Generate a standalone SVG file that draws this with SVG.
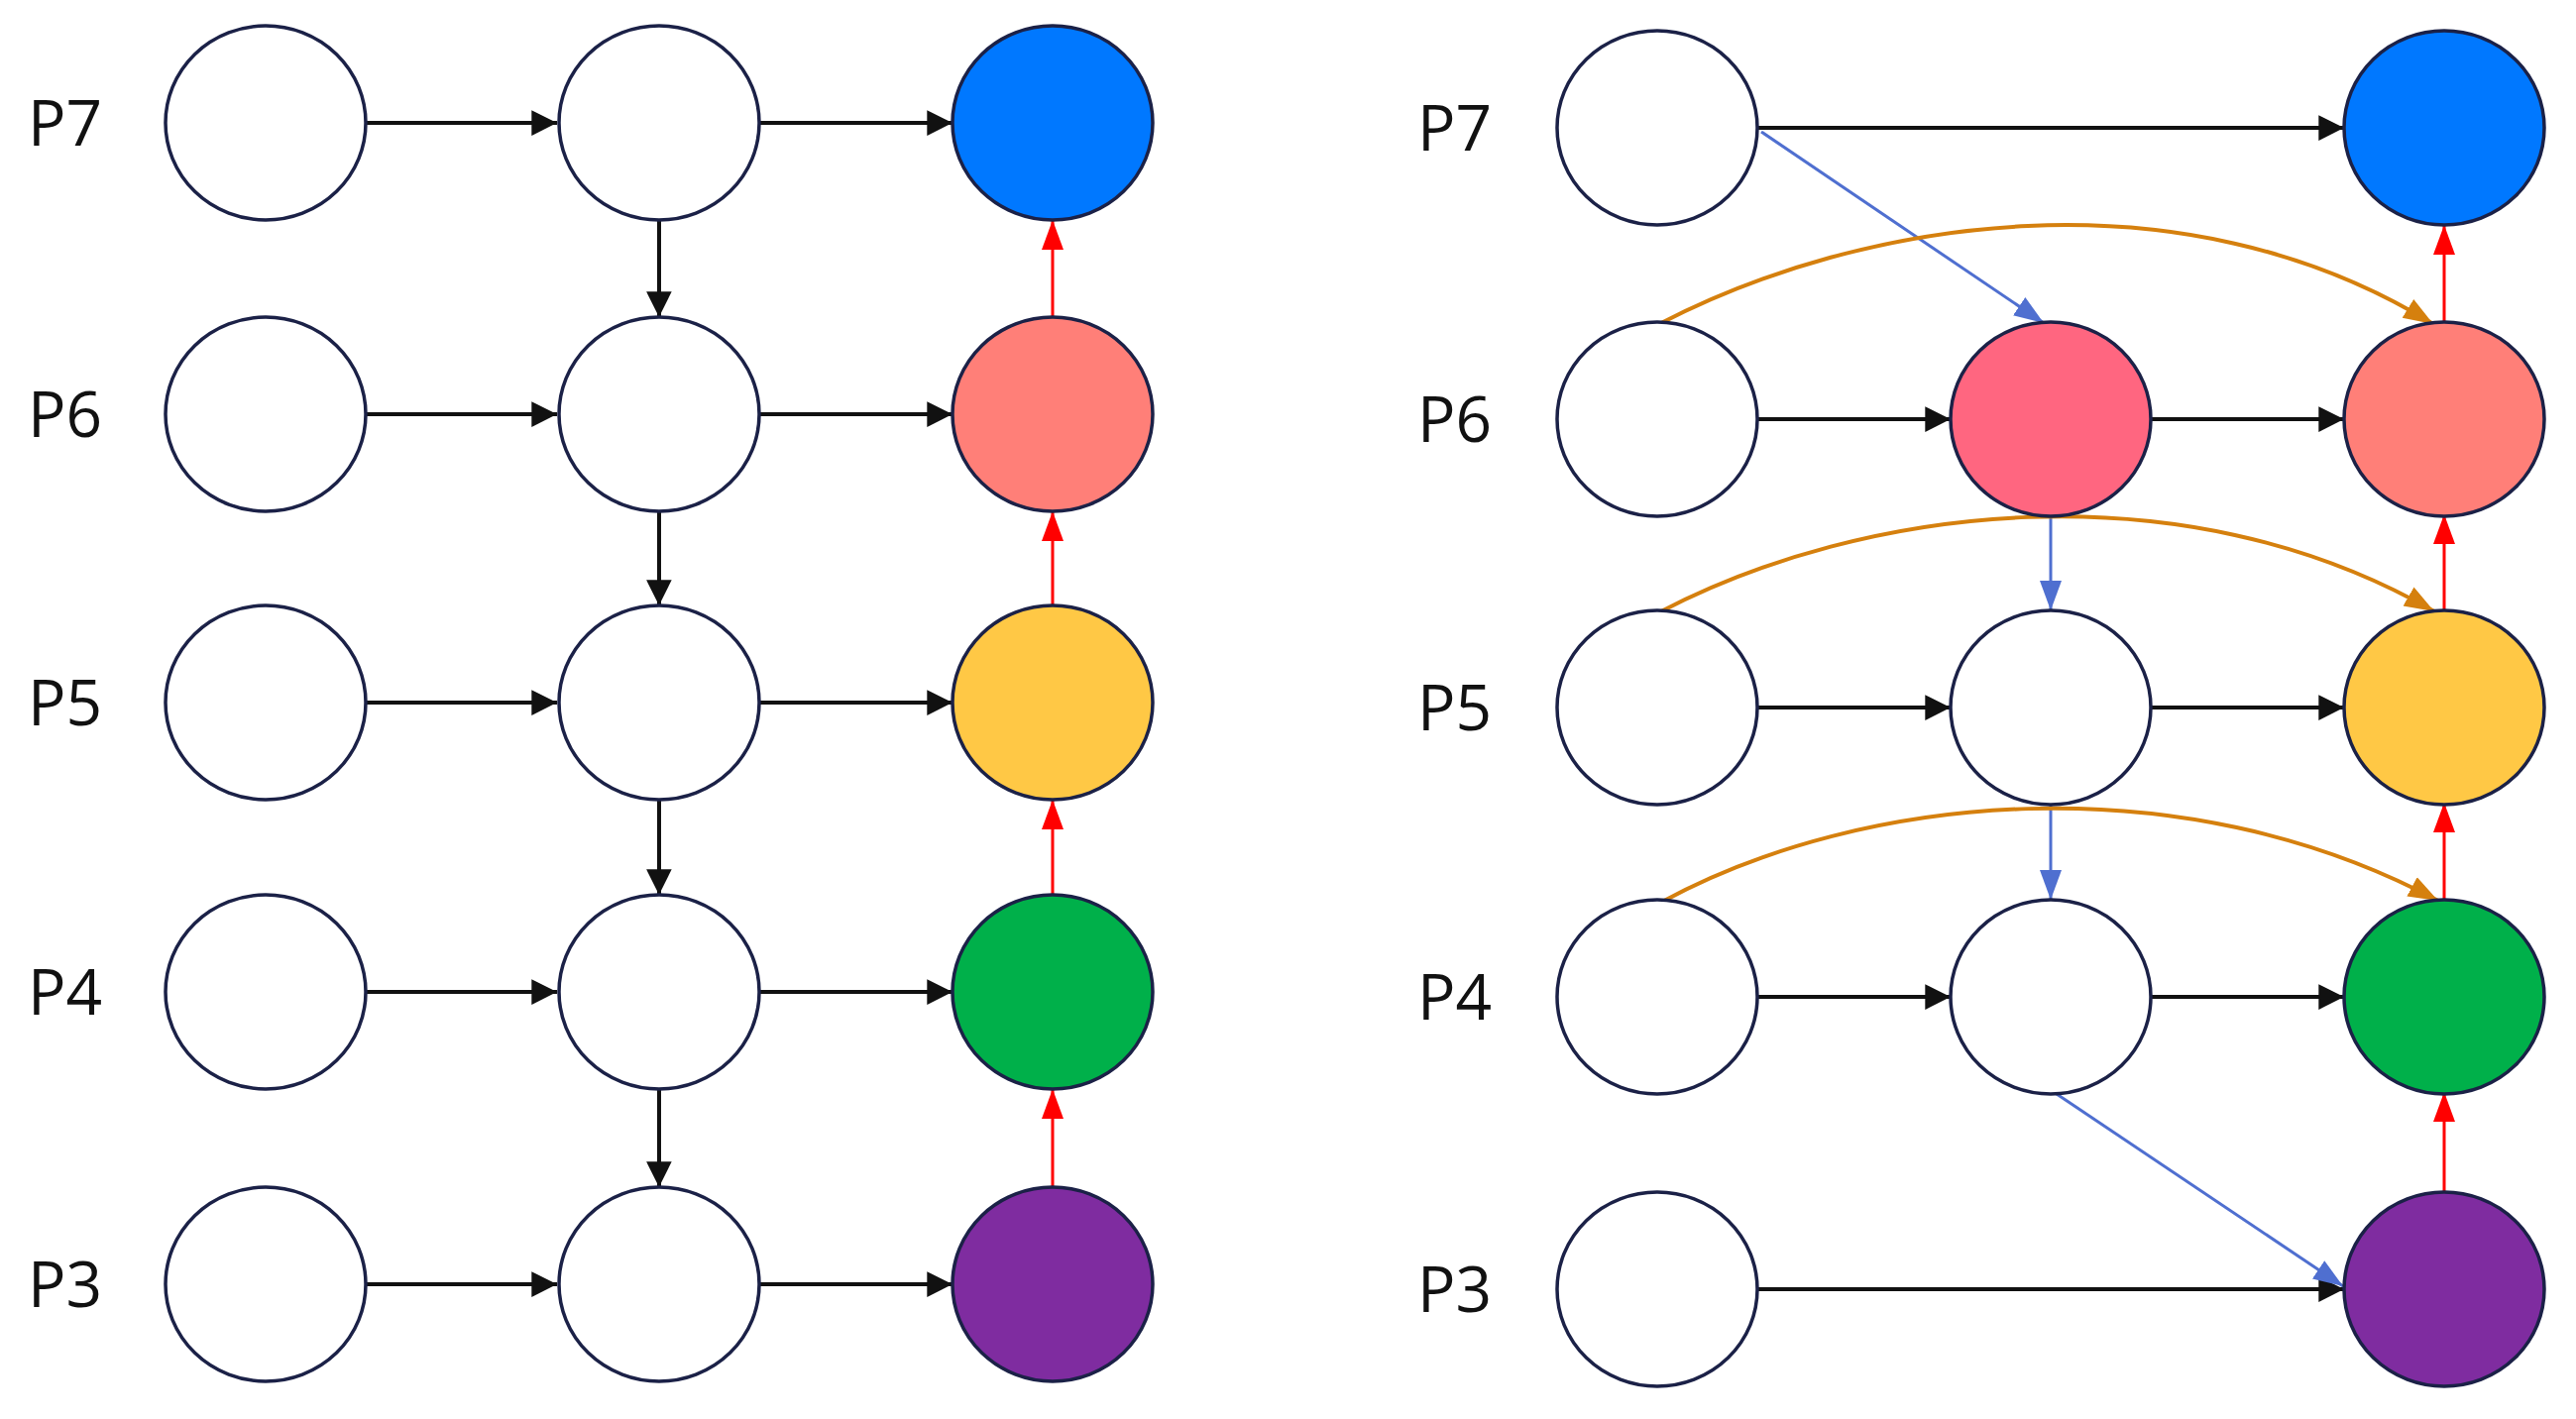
<svg xmlns="http://www.w3.org/2000/svg" width="2599" height="1432" viewBox="0 0 2599 1432">
<style>
.n{stroke:#1b2147;stroke-width:3.5;fill:#fff}
.l{font-family:"Open Sans","Liberation Sans",sans-serif;font-size:64px;fill:#111}
.k{stroke:#111;stroke-width:4;fill:none;marker-end:url(#mk)}
.r{stroke:#f00;stroke-width:3;fill:none;marker-end:url(#mr)}
.b{stroke:#4f6fd0;stroke-width:3;fill:none;marker-end:url(#mb)}
.o{stroke:#d5800e;stroke-width:4;fill:none;marker-end:url(#mo)}
</style>
<defs>
<marker id="mk" viewBox="0 0 10 10" refX="10" refY="5" markerWidth="8" markerHeight="8" markerUnits="userSpaceOnUse" orient="auto" style="overflow:visible"><path d="M0,0L10,5L0,10z" fill="#111" transform="scale(3.2)translate(-6.9,-3.4)"/></marker>
<marker id="mr" viewBox="0 0 30 30" refX="30" refY="15" markerWidth="30" markerHeight="30" markerUnits="userSpaceOnUse" orient="auto"><path d="M0,4L30,15L0,26z" fill="#f00"/></marker>
<marker id="mb" viewBox="0 0 30 30" refX="30" refY="15" markerWidth="30" markerHeight="30" markerUnits="userSpaceOnUse" orient="auto"><path d="M0,4L30,15L0,26z" fill="#4f6fd0"/></marker>
<marker id="mo" viewBox="0 0 30 30" refX="30" refY="15" markerWidth="30" markerHeight="30" markerUnits="userSpaceOnUse" orient="auto"><path d="M0,4L30,15L0,26z" fill="#d5800e"/></marker>
</defs>
<rect width="2599" height="1432" fill="#fff"/>
<g id="labels">
<text class="l" x="28" y="147">P7</text><text class="l" x="28" y="441">P6</text><text class="l" x="28" y="732">P5</text><text class="l" x="28" y="1024">P4</text><text class="l" x="28" y="1319">P3</text>
<text class="l" x="1430" y="152">P7</text><text class="l" x="1430" y="446">P6</text><text class="l" x="1430" y="737">P5</text><text class="l" x="1430" y="1029">P4</text><text class="l" x="1430" y="1324">P3</text>
</g>
<g id="connectors">
<path class="k" d="M369,124H562"/><path class="k" d="M766,124H961"/>
<path class="k" d="M369,418H562"/><path class="k" d="M766,418H961"/>
<path class="k" d="M369,709H562"/><path class="k" d="M766,709H961"/>
<path class="k" d="M369,1001H562"/><path class="k" d="M766,1001H961"/>
<path class="k" d="M369,1296H562"/><path class="k" d="M766,1296H961"/>
<path class="k" d="M665,222V320"/><path class="k" d="M665,516V611"/><path class="k" d="M665,807V903"/><path class="k" d="M665,1099V1198"/>
<path class="r" d="M1062,320V222"/><path class="r" d="M1062,611V516"/><path class="r" d="M1062,903V807"/><path class="r" d="M1062,1198V1099"/>
<path class="k" d="M1773,129H2365"/>
<path class="k" d="M1773,423H1968"/><path class="k" d="M2170,423H2365"/>
<path class="k" d="M1773,714H1968"/><path class="k" d="M2170,714H2365"/>
<path class="k" d="M1773,1006H1968"/><path class="k" d="M2170,1006H2365"/>
<path class="k" d="M1773,1301H2365"/>
<path class="r" d="M2466,325V227"/><path class="r" d="M2466,616V519"/><path class="r" d="M2466,908V810"/><path class="r" d="M2466,1203V1102"/>
<path class="b" d="M1777,133L2062,326"/>
<path class="b" d="M2069,519V616"/><path class="b" d="M2069,810V908"/>
<path class="b" d="M2072,1102L2364,1298"/>
<path class="o" d="M1674,327C1880,220 2200,170 2455,327"/>
<path class="o" d="M1674,618C1880,510 2200,470 2456,617"/>
<path class="o" d="M1677,910C1880,800 2200,770 2460,909"/>
</g>
<g id="nodes">
<ellipse class="n" cx="268" cy="124" rx="101" ry="98"/><ellipse class="n" cx="665" cy="124" rx="101" ry="98"/><ellipse class="n" cx="1062" cy="124" rx="101" ry="98" fill="#0078ff" style="fill:#0078ff"/>
<ellipse class="n" cx="268" cy="418" rx="101" ry="98"/><ellipse class="n" cx="665" cy="418" rx="101" ry="98"/><ellipse class="n" cx="1062" cy="418" rx="101" ry="98" style="fill:#ff7f78"/>
<ellipse class="n" cx="268" cy="709" rx="101" ry="98"/><ellipse class="n" cx="665" cy="709" rx="101" ry="98"/><ellipse class="n" cx="1062" cy="709" rx="101" ry="98" style="fill:#ffc845"/>
<ellipse class="n" cx="268" cy="1001" rx="101" ry="98"/><ellipse class="n" cx="665" cy="1001" rx="101" ry="98"/><ellipse class="n" cx="1062" cy="1001" rx="101" ry="98" style="fill:#00b04a"/>
<ellipse class="n" cx="268" cy="1296" rx="101" ry="98"/><ellipse class="n" cx="665" cy="1296" rx="101" ry="98"/><ellipse class="n" cx="1062" cy="1296" rx="101" ry="98" style="fill:#7f2ca0"/>
<ellipse class="n" cx="1672" cy="129" rx="101" ry="98"/><ellipse class="n" cx="2466" cy="129" rx="101" ry="98" style="fill:#0078ff"/>
<ellipse class="n" cx="1672" cy="423" rx="101" ry="98"/><ellipse class="n" cx="2069" cy="423" rx="101" ry="98" style="fill:#ff6680"/><ellipse class="n" cx="2466" cy="423" rx="101" ry="98" style="fill:#ff7f78"/>
<ellipse class="n" cx="1672" cy="714" rx="101" ry="98"/><ellipse class="n" cx="2069" cy="714" rx="101" ry="98"/><ellipse class="n" cx="2466" cy="714" rx="101" ry="98" style="fill:#ffc845"/>
<ellipse class="n" cx="1672" cy="1006" rx="101" ry="98"/><ellipse class="n" cx="2069" cy="1006" rx="101" ry="98"/><ellipse class="n" cx="2466" cy="1006" rx="101" ry="98" style="fill:#00b04a"/>
<ellipse class="n" cx="1672" cy="1301" rx="101" ry="98"/><ellipse class="n" cx="2466" cy="1301" rx="101" ry="98" style="fill:#7f2ca0"/>
</g>
</svg>
